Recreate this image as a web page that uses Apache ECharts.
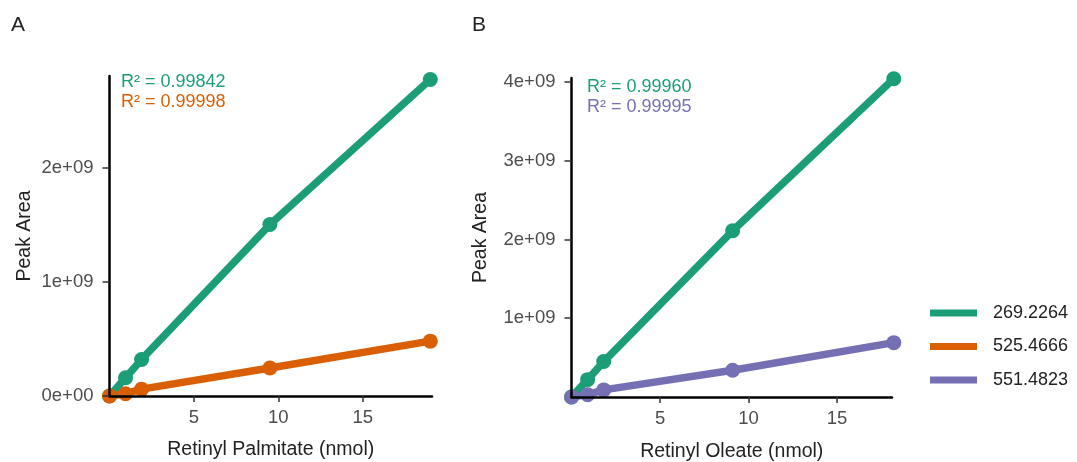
<!DOCTYPE html>
<html>
<head>
<meta http-equiv="Content-Type" content="text/html; charset=UTF-8">
<title>Retinyl esters</title>
<script src="https://cdn.jsdelivr.net/npm/echarts@6/dist/echarts.min.js"></script>
</head>
<body style="margin:0;background:#fff">
<div id="chart" style="width: 1077px; height: 462px;"></div>
<script type="text/javascript">
    // panel A: retinyl palmitate
    var palmX = [0, 0.95, 1.9, 9.5, 19];
    var palm269 = [0, 0.16e9, 0.32e9, 1.5e9, 2.77e9];
    var palm525 = [0, 0.02e9, 0.06e9, 0.245e9, 0.48e9];
    // panel B: retinyl oleate
    var oleX = [0, 0.91, 1.82, 9.1, 18.2];
    var ole269 = [0, 0.22e9, 0.45e9, 2.11e9, 4.04e9];
    var ole551 = [0, 0.03e9, 0.09e9, 0.34e9, 0.69e9];

    var names = ['269.2264', '525.4666', '551.4823'];
    var colors = ['#1b9e77', '#d95f02', '#7570b3'];
    var xTicks = [5, 10, 15];
    var yTicksA = [0, 1e9, 2e9];
    var yTicksB = [1e9, 2e9, 3e9, 4e9];
    var r2A = ['R\u00b2 = 0.99842', 'R\u00b2 = 0.99998'];
    var r2B = ['R\u00b2 = 0.99960', 'R\u00b2 = 0.99995'];

    function pairs(xs, ys) {
        var out = [];
        for (var i = 0; i < xs.length; i++) out.push([xs[i], ys[i]]);
        return out;
    }
    function sci(v) {
        if (v === 0) return '0e+00';
        var e = Math.floor(Math.log10(v));
        var m = Math.round(v / Math.pow(10, e));
        return m + 'e+' + (e < 10 ? '0' + e : e);
    }

    var font = 'Liberation Sans, Arial, sans-serif';
    var axisLine = { lineStyle: { color: '#000', width: 2.5 } };

    function xAxis(idx, title) {
        return {
            type: 'value', gridIndex: idx, min: 0, max: idx === 0 ? 19.1 : 18.1, z: 5,
            splitLine: { show: false },
            axisLine: axisLine,
            axisTick: { show: true, customValues: xTicks, length: 6, lineStyle: { color: '#333', width: 1.5 } },
            axisLabel: { customValues: xTicks, color: '#4d4d4d', fontSize: 18.5, fontFamily: font, margin: 12 },
            name: title, nameLocation: 'middle', nameGap: idx === 0 ? 44 : 45,
            nameTextStyle: { color: '#222', fontSize: 19.5, fontFamily: font }
        };
    }
    function yAxis(idx, max, ticks, gap) {
        return {
            type: 'value', gridIndex: idx, min: 0, max: max, z: 5,
            splitLine: { show: false },
            axisLine: axisLine,
            axisTick: { show: true, customValues: ticks, length: 7, lineStyle: { color: '#333', width: 1.5 } },
            axisLabel: { customValues: ticks, formatter: sci, color: '#4d4d4d', fontSize: 18.5, fontFamily: font, margin: 16 },
            name: 'Peak Area', nameLocation: 'middle', nameGap: gap,
            nameTextStyle: { color: '#222', fontSize: 19.5, fontFamily: font }
        };
    }
    function line(name, color, idx, data) {
        return {
            name: name, type: 'line', xAxisIndex: idx, yAxisIndex: idx,
            data: data, symbol: 'circle', symbolSize: 15, clip: false,
            lineStyle: { color: color, width: 7.5 },
            itemStyle: { color: color },
            emphasis: { disabled: true }, z: 2
        };
    }
    function text(str, x, y, color) {
        return { type: 'text', left: x, top: y, style: { text: str, fill: color, font: '18px ' + font } };
    }

    var myChart = echarts.init(document.getElementById('chart'));
    myChart.setOption({
        animation: false,
        backgroundColor: '#fff',
        grid: [
            { left: 109.5, right: 645, top: 76, bottom: 66, outerBoundsMode: 'none', containLabel: false },
            { left: 571.5, right: 185, top: 78, bottom: 65, outerBoundsMode: 'none', containLabel: false }
        ],
        xAxis: [xAxis(0, 'Retinyl Palmitate (nmol)'), xAxis(1, 'Retinyl Oleate (nmol)')],
        yAxis: [yAxis(0, 2.8e9, yTicksA, 75), yAxis(1, 4.05e9, yTicksB, 81)],
        legend: {
            data: names, orient: 'vertical', left: 925, top: 299,
            icon: 'rect', itemWidth: 47, itemHeight: 7, itemGap: 15.5,
            textStyle: { color: '#222', fontSize: 18, fontFamily: font, padding: [0, 0, 0, 11] },
            selectedMode: false
        },
        graphic: [
            { type: 'text', left: 11, top: 15, style: { text: 'A', fill: '#222', font: '21px ' + font } },
            { type: 'text', left: 472, top: 15, style: { text: 'B', fill: '#222', font: '21px ' + font } },
            text(r2A[0], 121, 73, colors[0]),
            text(r2A[1], 121, 93, colors[1]),
            text(r2B[0], 587, 78, colors[0]),
            text(r2B[1], 587, 98, colors[2])
        ],
        series: [
            line(names[0], colors[0], 0, pairs(palmX, palm269)),
            line(names[1], colors[1], 0, pairs(palmX, palm525)),
            line(names[0], colors[0], 1, pairs(oleX, ole269)),
            line(names[2], colors[2], 1, pairs(oleX, ole551))
        ]
    });
</script>
</body>
</html>
